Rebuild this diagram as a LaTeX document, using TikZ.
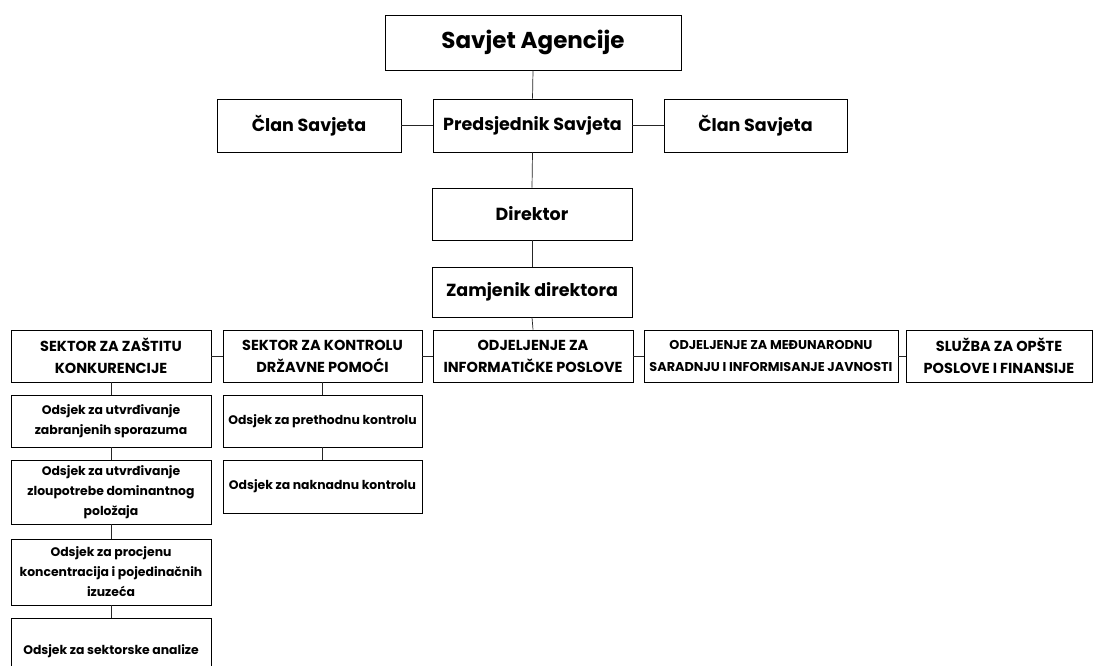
\documentclass[tikz,border=0pt]{standalone}
\usepackage{fontspec}
\setmainfont{Poppins}
\begin{document}
\begin{tikzpicture}[x=1pt,y=-1pt,
  box/.style={draw=black,line width=0.8pt,rectangle,inner sep=1pt,align=center,font=\bfseries},
  bigbox/.style={box,font=\bfseries\fontsize{23}{27}\selectfont},
  midbox/.style={box,font=\bfseries\fontsize{17.5}{21}\selectfont},
  capbox/.style={box,font=\bfseries\fontsize{14.5}{22}\selectfont},
  capsmbox/.style={box,font=\bfseries\fontsize{12.8}{22}\selectfont},
  subbox/.style={box,font=\bfseries\fontsize{12.4}{20}\selectfont},
  link/.style={draw=black!85,line width=0.7pt}]
\clip (0,0) rectangle (1095,665);
\fill[white] (0,0) rectangle (1095,665);
% top
\node[bigbox,minimum width=296pt,minimum height=55pt] (sa) at (533,42.5) {Savjet Agencije};
\node[midbox,minimum width=184pt,minimum height=53pt] (cl) at (309,125.5) {Član Savjeta};
\node[midbox,minimum width=199pt,minimum height=53pt] (pr) at (532.5,125.5) {Predsjednik Savjeta};
\node[midbox,minimum width=183pt,minimum height=53pt] (cr) at (755.5,125.5) {Član Savjeta};
\node[midbox,minimum width=200pt,minimum height=52pt] (di) at (532,214) {Direktor};
\node[midbox,minimum width=200pt,minimum height=50pt] (za) at (532,292) {Zamjenik direktora};
% row
\node[capbox,minimum width=200pt,minimum height=52pt] (s1) at (111,356) {SEKTOR ZA ZAŠTITU\\KONKURENCIJE};
\node[capbox,minimum width=199pt,minimum height=52pt] (s2) at (322.5,356) {SEKTOR ZA KONTROLU\\DRŽAVNE POMOĆI};
\node[capbox,minimum width=200pt,minimum height=52pt] (o1) at (533,356) {ODJELJENJE ZA\\INFORMATIČKE POSLOVE};
\node[capsmbox,minimum width=254pt,minimum height=52pt] (o2) at (771,356) {ODJELJENJE ZA MEĐUNARODNU\\SARADNJU I INFORMISANJE JAVNOSTI};
\node[capbox,minimum width=186pt,minimum height=52pt] (o3) at (999,356) {SLUŽBA ZA OPŠTE\\POSLOVE I FINANSIJE};
% column 1
\node[subbox,minimum width=200pt,minimum height=52pt] (a1) at (111,421) {Odsjek za utvrđivanje\\zabranjenih sporazuma};
\node[subbox,minimum width=200pt,minimum height=64pt] (a2) at (111,492) {Odsjek za utvrđivanje\\zloupotrebe dominantnog\\položaja};
\node[subbox,minimum width=200pt,minimum height=66pt] (a3) at (111,572) {Odsjek za procjenu\\koncentracija i pojedinačnih\\izuzeća};
\node[subbox,minimum width=200pt,minimum height=66pt] (a4) at (111,651) {Odsjek za sektorske analize};
% column 2
\node[subbox,minimum width=199pt,minimum height=52pt] (b1) at (322.5,421) {Odsjek za prethodnu kontrolu};
\node[subbox,minimum width=199pt,minimum height=53pt] (b2) at (322.5,486.5) {Odsjek za naknadnu kontrolu};
% connectors
\draw[link] (sa.south) -- (pr.north);
\draw[link] (cl.east) -- (pr.west);
\draw[link] (pr.east) -- (cr.west);
\draw[link] (pr.south) -- (di.north);
\draw[link] (di.south) -- (za.north);
\draw[link] (za.south) -- (o1.north);
\draw[link] (s1.east) -- (s2.west);
\draw[link] (s2.east) -- (o1.west);
\draw[link] (o1.east) -- (o2.west);
\draw[link] (o2.east) -- (o3.west);
\draw[link] (s1.south) -- (a1.north);
\draw[link] (a1.south) -- (a2.north);
\draw[link] (a2.south) -- (a3.north);
\draw[link] (a3.south) -- (a4.north);
\draw[link] (s2.south) -- (b1.north);
\draw[link] (b1.south) -- (b2.north);
\end{tikzpicture}
\end{document}
